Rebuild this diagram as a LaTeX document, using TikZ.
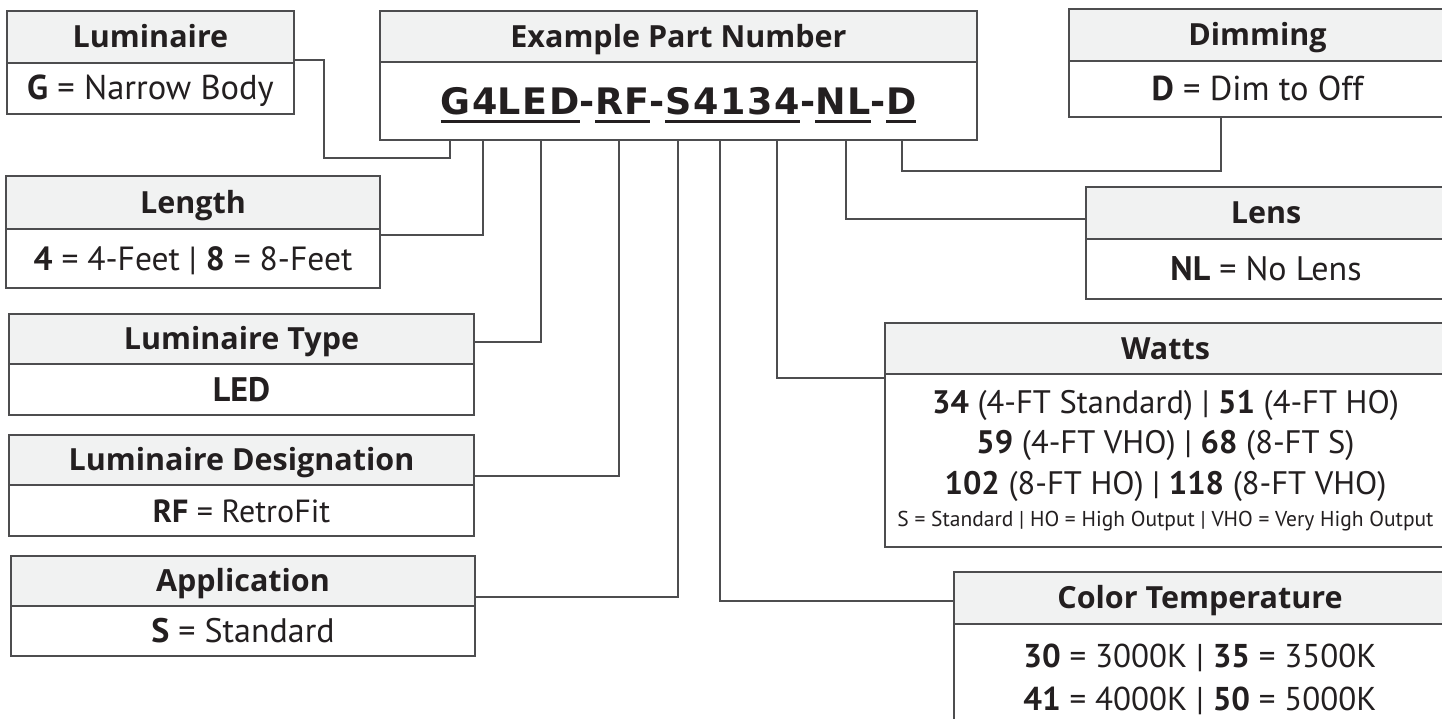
\documentclass[tikz,border=0pt]{standalone}
\usepackage{fontspec}
\setmainfont{PT Sans}
\newfontfamily\headfont{Open Sans}
\newfontfamily\pnfont[LetterSpace=5.0]{DejaVu Sans}
\usetikzlibrary{positioning}
\definecolor{ink}{HTML}{231F20}
\definecolor{headgray}{HTML}{F1F2F2}
\definecolor{linegray}{HTML}{4D4D4F}
\newcommand\pnseg[1]{\setbox0\hbox{#1}\rlap{\rule[-9pt]{\wd0}{3pt}}\box0}
\newcommand\fs[1]{\fontsize{#1}{1.25\dimexpr#1pt\relax}\selectfont}
\tikzset{
  frame/.style={draw=linegray, line width=1.4pt, inner sep=0pt, outer sep=0pt, text=ink},
  head/.style={frame, fill=headgray, font=\headfont\bfseries\fs{30.5}, text height=21.8pt, text depth=0pt},
  body/.style={frame, fill=white, font=\fs{33}, text height=23pt, text depth=0pt},
  list/.style={frame, fill=white, align=center},
  wire/.style={draw=linegray, line width=1.4pt}
}
\begin{document}
\begin{tikzpicture}[x=1pt, y=-1pt]
\clip (0,0) rectangle (1442,719);

\node[head, anchor=north west, minimum width=287, minimum height=52] (lumH) at (7,11) {Luminaire};
\node[body, below=0pt of lumH, minimum width=287, minimum height=51, font=\fs{34.5}] (lumB) {\textbf{G} = Narrow Body};

\node[head, anchor=north west, minimum width=597, minimum height=51] (pnH) at (380,11) {Example Part Number};
\node[body, below=0pt of pnH, minimum width=597, minimum height=78, font=\pnfont\bfseries\fs{36.5}, text height=26.5pt] (pnB)
  {\pnseg{G4}\pnseg{LED}-\pnseg{RF}-\pnseg{S4134}-\pnseg{NL}-\pnseg{D}};

\node[head, anchor=north west, minimum width=377, minimum height=52] (dimH) at (1069,9) {Dimming};
\node[body, below=0pt of dimH, minimum width=377, minimum height=56, font=\fs{34.5}] (dimB) {\textbf{D} = Dim to Off};

\node[head, anchor=north west, minimum width=374, minimum height=53] (lenH) at (6,176) {Length};
\node[body, below=0pt of lenH, minimum width=374, minimum height=59, font=\fs{33.5}] (lenB) {\textbf{4} = 4-Feet | \textbf{8} = 8-Feet};

\node[head, anchor=north west, minimum width=360, minimum height=52] (lensH) at (1086,187) {Lens};
\node[body, below=0pt of lensH, minimum width=360, minimum height=60, font=\fs{34}] (lensB) {\textbf{NL} = No Lens};

\node[head, anchor=north west, minimum width=465, minimum height=50] (typeH) at (9,314) {Luminaire Type};
\node[body, below=0pt of typeH, minimum width=465, minimum height=51, font=\fs{34}] (typeB) {\textbf{LED}};

\node[head, anchor=north west, minimum width=561, minimum height=51] (wattsH) at (885,323) {Watts};
\node[list, below=0pt of wattsH, minimum width=561, minimum height=173, font=\fs{32.5}] (wattsB)
  {\textbf{34} (4-FT Standard) | \textbf{51} (4-FT HO)\\
   \textbf{59} (4-FT VHO) | \textbf{68} (8-FT S)\\
   \textbf{102} (8-FT HO) | \textbf{118} (8-FT VHO)\\[-8.6pt]
   {\fs{21.5}S = Standard | HO = High Output | VHO = Very High Output}};

\node[head, anchor=north west, minimum width=465, minimum height=50] (desigH) at (9,435) {Luminaire Designation};
\node[body, below=0pt of desigH, minimum width=465, minimum height=51, font=\fs{32}] (desigB) {\textbf{RF} = RetroFit};

\node[head, anchor=north west, minimum width=464, minimum height=50] (appH) at (11,556) {Application};
\node[body, below=0pt of appH, minimum width=464, minimum height=50, font=\fs{34}] (appB) {\textbf{S} = Standard};

\node[head, anchor=north west, minimum width=492, minimum height=52] (cctH) at (954,572) {Color Temperature};
\node[list, below=0pt of cctH, minimum width=492, minimum height=110, font=\fontsize{33}{43}\selectfont] (cctB)
  {\textbf{30} = 3000K | \textbf{35} = 3500K\\
   \textbf{41} = 4000K | \textbf{50} = 5000K};

\foreach \nm/\dx in {G/70, L/103, T/161, R/239, S/298, C/340, W/397, N/466, D/522}
  \coordinate (tap\nm) at ([xshift=\dx pt]pnB.south west);

\draw[wire] ([yshift=3pt]lumH.south east) -- ++(30,0) |- ([yshift=-18pt]tapG) -- (tapG);
\draw[wire] ([yshift=-6pt]lenB.north east) -| (tapL);
\draw[wire] ([yshift=-3pt]typeH.east) -| (tapT);
\draw[wire] ([yshift=9pt]desigH.south east) -| (tapR);
\draw[wire] ([yshift=9pt]appH.south east) -| (tapS);
\draw[wire] ([yshift=-3pt]cctH.west) -| (tapC);
\draw[wire] ([yshift=-4pt]wattsB.north west) -| (tapW);
\draw[wire] ([yshift=-6pt]lensH.west) -| (tapN);
\draw[wire] ([xshift=152pt]dimB.south west) |- ([yshift=-31pt]tapD) -- (tapD);
\end{tikzpicture}
\end{document}
